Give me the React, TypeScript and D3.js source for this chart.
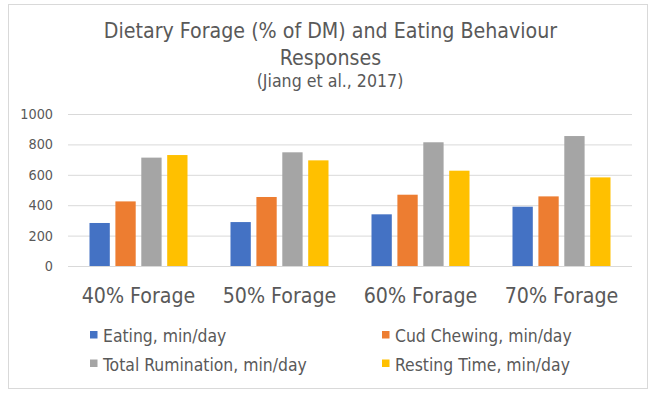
import React, { useEffect, useRef } from 'react';
import * as d3 from 'd3';

const categories = ['40% Forage', '50% Forage', '60% Forage', '70% Forage'];
const seriesNames = [
    'Eating, min/day',
    'Cud Chewing, min/day',
    'Total Rumination, min/day',
    'Resting Time, min/day',
];
const eating = [283, 289, 340, 390];
const cudChewing = [425, 454, 469, 458];
const totalRumination = [713, 748, 814, 855];
const restingTime = [730, 695, 627, 583];
const yTicks = [0, 200, 400, 600, 800, 1000];

const colors = ['#4472C4', '#ED7D31', '#A5A5A5', '#FFC000'];
const FONT = '"DejaVu Sans Condensed", "DejaVu Sans", sans-serif';
const TEXT_COLOR = '#595959';

const App: React.FC = () => {
    const svgRef = useRef<SVGSVGElement | null>(null);
    const width = 655;
    const height = 393;

    useEffect(() => {
        if (svgRef.current) drawChart();
    }, []);

    const drawChart = () => {
        const svg = d3.select(svgRef.current);
        svg.selectAll('*').remove();

        const values = [eating, cudChewing, totalRumination, restingTime];

        // chart frame
        svg.append('rect')
            .attr('x', 8.5)
            .attr('y', 4.5)
            .attr('width', 639)
            .attr('height', 384)
            .attr('fill', '#fff')
            .attr('stroke', '#D9D9D9');

        // title
        const title = svg
            .append('g')
            .attr('fill', TEXT_COLOR)
            .attr('text-anchor', 'middle')
            .style('font-family', FONT);
        title.append('text')
            .attr('x', 330.5).attr('y', 37.5)
            .style('font-size', '21.2px')
            .text('Dietary Forage (% of DM) and Eating Behaviour');
        title.append('text')
            .attr('x', 330.5).attr('y', 64.5)
            .style('font-size', '21.2px')
            .text('Responses');
        title.append('text')
            .attr('x', 330).attr('y', 86.5)
            .style('font-size', '17.6px')
            .text('(Jiang et al., 2017)');

        const x0 = d3.scaleBand<string>().domain(categories).range([68, 632]);
        const x1 = d3
            .scaleBand<number>()
            .domain(d3.range(seriesNames.length))
            .range([0, x0.bandwidth()])
            .paddingInner(0.216)
            .paddingOuter(0.83);
        const y = d3.scaleLinear().domain([0, 1000]).range([266, 114]);

        // gridlines
        svg.append('g')
            .selectAll('line')
            .data(yTicks)
            .enter()
            .append('line')
            .attr('x1', 68)
            .attr('x2', 632)
            .attr('y1', (d) => y(d) + 0.5)
            .attr('y2', (d) => y(d) + 0.5)
            .attr('stroke', '#D9D9D9')
            .attr('stroke-width', 1);

        // y tick labels
        svg.append('g')
            .selectAll('text')
            .data(yTicks)
            .enter()
            .append('text')
            .attr('x', 53)
            .attr('y', (d) => y(d))
            .attr('dy', '0.35em')
            .attr('text-anchor', 'end')
            .attr('fill', TEXT_COLOR)
            .style('font-family', FONT)
            .style('font-size', '14.3px')
            .text((d) => d);

        // bars
        const groups = svg
            .append('g')
            .selectAll('g')
            .data(categories)
            .enter()
            .append('g')
            .attr('transform', (d) => `translate(${x0(d)},0)`);

        groups
            .selectAll('rect')
            .data((_, ci) => values.map((s, si) => ({ si, v: s[ci] })))
            .enter()
            .append('rect')
            .attr('x', (d) => x1(d.si)!)
            .attr('y', (d) => y(d.v))
            .attr('width', x1.bandwidth())
            .attr('height', (d) => y(0) - y(d.v))
            .attr('fill', (d) => colors[d.si]);

        // category labels
        svg.append('g')
            .selectAll('text')
            .data(categories)
            .enter()
            .append('text')
            .attr('x', (d) => x0(d)! + x0.bandwidth() / 2)
            .attr('y', 302.5)
            .attr('text-anchor', 'middle')
            .attr('fill', TEXT_COLOR)
            .style('font-family', FONT)
            .style('font-size', '21.2px')
            .text((d) => d);

        // legend
        const legend = svg
            .append('g')
            .selectAll('g')
            .data(seriesNames)
            .enter()
            .append('g')
            .attr('transform', (_, i) => `translate(${i % 2 === 0 ? 90 : 382},${i < 2 ? 342 : 370.5})`);
        legend.append('rect')
            .attr('x', 0)
            .attr('y', -11)
            .attr('width', 7.5)
            .attr('height', 7.5)
            .attr('fill', (_, i) => colors[i]);
        legend.append('text')
            .attr('x', 13)
            .attr('y', 0)
            .attr('fill', TEXT_COLOR)
            .style('font-family', FONT)
            .style('font-size', '17.4px')
            .text((d) => d);
    };

    return (
        <svg
            ref={svgRef}
            width={width}
            height={height}
            style={{ position: 'absolute', left: 0, top: 0, background: '#fff' }}
        ></svg>
    );
};

export default App;
